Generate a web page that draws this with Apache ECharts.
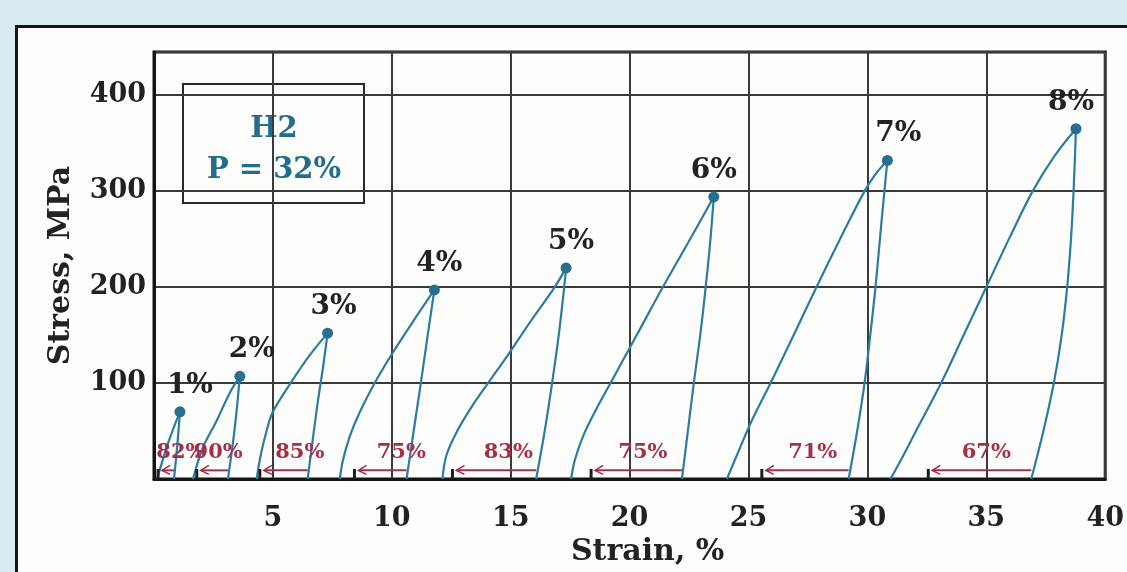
<!DOCTYPE html>
<html>
<head>
<meta charset="utf-8">
<title>H2 P = 32% — cyclic loading</title>
<script src="https://cdn.jsdelivr.net/npm/echarts@6/dist/echarts.min.js"></script>
<style>
  html, body { margin: 0; padding: 0; }
  body { width: 1127px; height: 572px; background: #d8ebf1; position: relative; overflow: hidden; }
  #frame { position: absolute; left: 15px; top: 25px; width: 1200px; height: 600px;
           background: #fdfdfc; border: 3px solid #151515; box-sizing: border-box; }
  #chart { position: absolute; left: 0; top: 0; width: 1127px; height: 572px; }
</style>
</head>
<body>
<div id="frame"></div>
<div id="chart"></div>
<script>
// Loading step labels and peak points (strain %, stress MPa)
const peakLabels = ['1%', '2%', '3%', '4%', '5%', '6%', '7%', '8%'];
const peakStrain = [1.09, 3.61, 7.30, 11.79, 17.33, 23.54, 30.84, 38.77];
const peakStress = [70, 107, 152, 197, 220, 294, 332, 365];

// Loading branches, [strain, stress] from zero stress up to the peak
const loadingBranches = [
  [[0.13, 0], [0.60, 38], [1.09, 70]],
  [[1.64, 0], [2.06, 33], [2.64, 61], [3.19, 90], [3.61, 107]],
  [[4.32, 0], [4.45, 20], [4.68, 45], [5.00, 70], [5.80, 102], [6.55, 129], [7.30, 152]],
  [[7.81, 0], [7.95, 20], [8.24, 45], [8.66, 70], [9.28, 100], [10.00, 130], [10.89, 164], [11.79, 197]],
  [[12.13, 0], [12.30, 25], [12.75, 50], [13.35, 75], [14.05, 100], [14.85, 128], [15.80, 163], [16.85, 200], [17.33, 220]],
  [[17.54, 0], [17.70, 20], [18.05, 45], [18.58, 72], [19.20, 100], [20.30, 150], [21.40, 200], [22.50, 248], [23.54, 294]],
  [[24.09, 0], [24.60, 30], [25.14, 61], [25.93, 100], [26.90, 150], [27.86, 200], [28.85, 250], [29.88, 300], [30.35, 318], [30.84, 332]],
  [[30.97, 0], [31.50, 24], [32.00, 48], [33.10, 100], [34.05, 150], [35.00, 200], [35.95, 250], [36.95, 300], [37.85, 336], [38.77, 365]]
];

// Unloading branches, from the peak back to zero stress
const unloadingBranches = [
  [[1.09, 70], [0.98, 35], [0.84, 0]],
  [[3.61, 107], [3.40, 54], [3.11, 0]],
  [[7.30, 152], [7.10, 115], [6.88, 79], [6.46, 0]],
  [[11.79, 197], [11.51, 150], [11.22, 100], [10.92, 50], [10.62, 0]],
  [[17.33, 220], [17.25, 200], [17.02, 150], [16.74, 100], [16.43, 50], [16.07, 0]],
  [[23.54, 294], [23.40, 250], [23.20, 200], [22.97, 150], [22.70, 100], [22.45, 50], [22.20, 0]],
  [[30.84, 332], [30.60, 270], [30.34, 200], [30.12, 150], [29.88, 100], [29.57, 50], [29.21, 0]],
  [[38.77, 365], [38.67, 300], [38.56, 250], [38.40, 200], [38.17, 150], [37.84, 100], [37.40, 50], [36.89, 0]]
];

// Shape recovery after each step: arrow from residual strain back to recovered strain
const recoveryLabels = ['82%', '90%', '85%', '75%', '83%', '75%', '71%', '67%'];
const recoveryFrom = [0.84, 3.11, 6.46, 10.62, 16.07, 22.20, 29.21, 36.89];
const recoveryTo = [0.17, 1.80, 4.45, 8.43, 12.55, 18.38, 25.56, 32.56];
const recoveryLabelStrain = [1.13, 2.70, 6.13, 10.40, 14.90, 20.56, 27.70, 35.00];

// Axis ticks
const strainTicks = { min: 0, max: 40, step: 5 };
const stressTicks = { min: 0, max: 445, step: 100 };

const SERIF = '"DejaVu Serif", "Liberation Serif", serif';
const CURVE = '#2c7ca0';
const DOT = '#276f91';
const RED = '#a3304a';
const ARROW_STRESS = 9;
const LABEL_STRESS = 28;

// small horizontal nudges (px) for the step labels above each peak
const peakLabelNudge = [10, 12, 6, 5, 5, 0, 11, -5];

const chart = echarts.init(document.getElementById('chart'), null, { renderer: 'canvas' });

const branchStyle = { color: CURVE, width: 2.2 };
const series = [];
loadingBranches.concat(unloadingBranches).forEach((pts) => {
  series.push({
    type: 'line', data: pts, smooth: 0.35, showSymbol: false, symbol: 'none',
    lineStyle: branchStyle, z: 3, silent: true
  });
});

series.push({
  type: 'scatter',
  symbol: 'circle',
  symbolSize: 11,
  itemStyle: { color: DOT, opacity: 1 },
  z: 5,
  data: peakLabels.map((lab, i) => ({
    value: [peakStrain[i], peakStress[i]],
    label: {
      show: true, formatter: lab, position: 'top', distance: 7,
      offset: [peakLabelNudge[i], 0], opacity: 1,
      color: '#222', fontFamily: SERIF, fontWeight: 'bold', fontSize: 28
    }
  }))
});

series.push({
  type: 'custom',
  coordinateSystem: 'cartesian2d',
  z: 4,
  silent: true,
  data: recoveryLabels.map((lab, i) => [recoveryFrom[i], recoveryTo[i], recoveryLabelStrain[i], i]),
  renderItem: function (params, api) {
    const from = api.coord([api.value(0), ARROW_STRESS]);
    const to = api.coord([api.value(1), ARROW_STRESS]);
    const base = api.coord([api.value(1), 0]);
    const lab = api.coord([api.value(2), LABEL_STRESS]);
    const idx = api.value(3);
    const tipX = to[0] + 4;
    return {
      type: 'group',
      children: [
        { type: 'line', shape: { x1: from[0], y1: from[1], x2: tipX, y2: to[1] },
          style: { stroke: RED, lineWidth: 2 } },
        { type: 'polyline', shape: { points: [[tipX + 8, to[1] - 5], [tipX, to[1]], [tipX + 8, to[1] + 4]] },
          style: { stroke: RED, lineWidth: 1.6, fill: null } },
        { type: 'line', shape: { x1: base[0], y1: base[1], x2: base[0], y2: base[1] - 10 },
          style: { stroke: '#1e1e1e', lineWidth: 3 } },
        { type: 'text', x: lab[0], y: lab[1],
          style: { text: recoveryLabels[idx], fill: RED, fontFamily: SERIF, fontWeight: 'bold',
                   fontSize: 21, align: 'center', verticalAlign: 'middle' } }
      ]
    };
  }
});

const option = {
  backgroundColor: 'transparent',
  animation: false,
  grid: {
    left: 154, top: 52, right: 20, bottom: 93,
    show: true, borderColor: '#151515', borderWidth: 3, backgroundColor: 'transparent'
  },
  xAxis: {
    type: 'value',
    min: strainTicks.min, max: strainTicks.max, interval: strainTicks.step,
    name: 'Strain, %',
    nameLocation: 'middle',
    nameGap: 47,
    nameTextStyle: { color: '#222', fontFamily: SERIF, fontWeight: 'bold', fontSize: 30, padding: [0, 0, 0, 36] },
    axisLine: { show: true, lineStyle: { color: '#151515', width: 3 } },
    axisTick: { show: false },
    splitLine: { show: true, lineStyle: { color: '#3a3a3a', width: 2 } },
    axisLabel: { showMinLabel: false, margin: 26, color: '#222', fontFamily: SERIF, fontWeight: 'bold', fontSize: 27 }
  },
  yAxis: {
    type: 'value',
    min: stressTicks.min, max: stressTicks.max, interval: stressTicks.step,
    name: 'Stress, MPa',
    nameLocation: 'middle',
    nameGap: 78,
    nameTextStyle: { color: '#222', fontFamily: SERIF, fontWeight: 'bold', fontSize: 30 },
    axisLine: { show: true, lineStyle: { color: '#151515', width: 3 } },
    axisTick: { show: false },
    splitLine: { show: true, lineStyle: { color: '#3a3a3a', width: 2 } },
    axisLabel: { showMinLabel: false, showMaxLabel: false, margin: 8, color: '#222', fontFamily: SERIF, fontWeight: 'bold', fontSize: 27 }
  },
  graphic: [{
    type: 'group',
    left: 182, top: 83,
    z: 100,
    children: [
      { type: 'rect', shape: { x: 0, y: 0, width: 181, height: 119 },
        style: { fill: '#fdfdfc', stroke: '#2a2a2a', lineWidth: 2 } },
      { type: 'text', x: 91, y: 45,
        style: { text: 'H2', fill: '#236c8e', fontFamily: SERIF, fontWeight: 'bold', fontSize: 29,
                 align: 'center', verticalAlign: 'middle' } },
      { type: 'text', x: 91, y: 86,
        style: { text: 'P = 32%', fill: '#236c8e', fontFamily: SERIF, fontWeight: 'bold', fontSize: 29,
                 align: 'center', verticalAlign: 'middle' } }
    ]
  }],
  series: series
};

chart.setOption(option);
</script>
</body>
</html>
